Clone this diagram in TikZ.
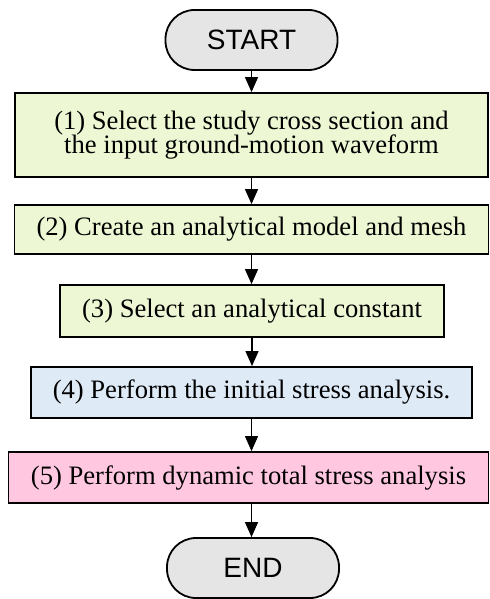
\documentclass[tikz,border=0pt]{standalone}
\usepackage{fontspec}
\setmainfont{Liberation Serif}
\newfontfamily\arialfont{Liberation Sans}
\usetikzlibrary{arrows.meta}
\definecolor{boxgreen}{HTML}{EDF7D4}
\definecolor{boxblue}{HTML}{DEEAF6}
\definecolor{boxpink}{HTML}{FFC8E0}
\definecolor{termgray}{HTML}{E5E5E5}
\begin{document}
\begin{tikzpicture}[x=1bp,y=-1bp,
  stepbox/.style={draw=black, line width=1.8bp, inner sep=0pt, align=center,
    font=\fontsize{26.6bp}{24.7bp}\selectfont},
  term/.style={draw=black, line width=1.8bp, fill=termgray, rounded corners=29bp,
    minimum width=172bp, minimum height=60bp, inner sep=0pt,
    font=\arialfont\fontsize{28bp}{30bp}\selectfont},
  flow/.style={-{Triangle[width=13bp,length=15bp]}, line width=1.1bp}]
\useasboundingbox (0,0) rectangle (490,599);
\node[term] (start) at (251.5,40) {START};
\node[stepbox, fill=boxgreen, minimum width=473bp, minimum height=84bp] (s1) at (251.5,135) {(1) Select the study cross section and\\the input ground-motion waveform};
\node[stepbox, fill=boxgreen, minimum width=474bp, minimum height=49bp] (s2) at (251.5,229.5) {(2) Create an analytical model and mesh};
\node[stepbox, fill=boxgreen, minimum width=384bp, minimum height=52bp] (s3) at (252,311) {(3) Select an analytical constant};
\node[stepbox, fill=boxblue, minimum width=441bp, minimum height=51bp] (s4) at (251.5,392.5) {(4) Perform the initial stress analysis.};
\node[stepbox, fill=boxpink, minimum width=480bp, minimum height=51bp] (s5) at (248.5,477.5) {(5) Perform dynamic total stress analysis};
\node[term] (end) at (253,568) {END};
\draw[flow] (start.south) -- (s1.north);
\draw[flow] (s1.south) -- (s2.north);
\draw[flow] (s2.south) -- (s2.south |- s3.north);
\draw[flow] (s3.south) -- (s3.south |- s4.north);
\draw[flow] (s4.south) -- (s4.south |- s5.north);
\draw[flow] (s4.south |- s5.south) -- (s4.south |- end.north);
\end{tikzpicture}
\end{document}
